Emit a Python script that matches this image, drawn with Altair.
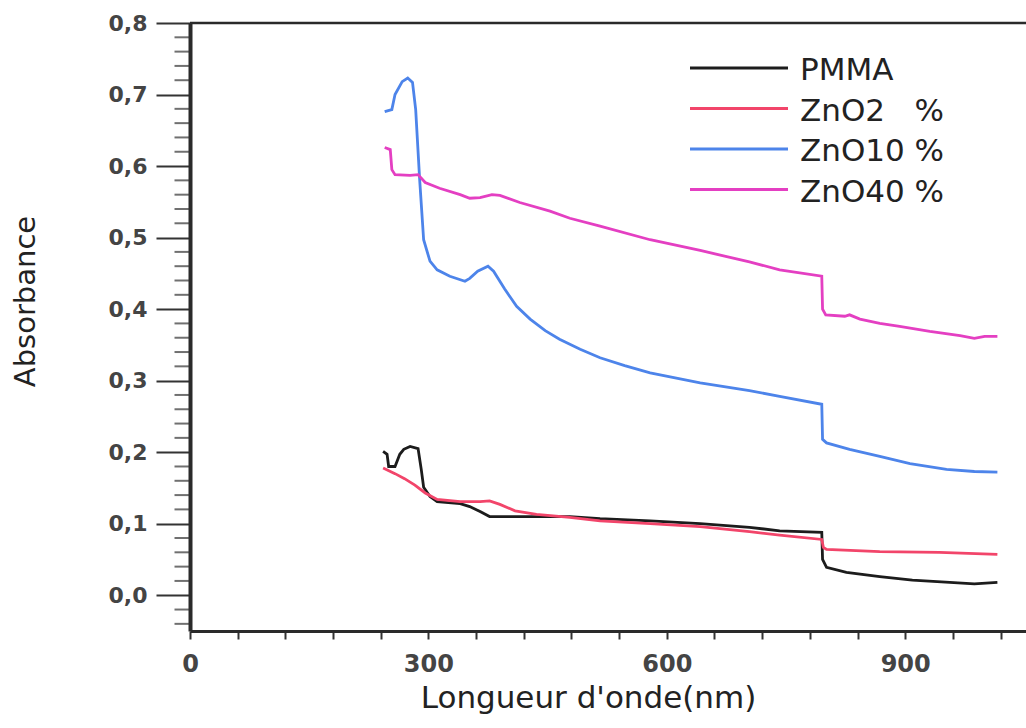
import altair as alt
import pandas as pd

# ---------------- data ----------------
series_names = ["PMMA", "ZnO2 %", "ZnO10 %", "ZnO40 %"]
legend_labels = ["PMMA", "ZnO2\u00a0\u00a0\u00a0%", "ZnO10 %", "ZnO40 %"]
colors = ["#1c1c1c", "#f2456a", "#4d84ea", "#e43fc2"]

pmma_x = [243, 248, 250, 258, 264, 269, 277, 287, 291, 294, 302, 311, 340, 352, 365, 377,
          415, 478, 516, 579, 642, 704, 742, 795, 796, 801, 826, 868, 909, 956, 987, 1016]
pmma_y = [0.201, 0.197, 0.180, 0.180, 0.197, 0.204, 0.208, 0.205, 0.176, 0.151, 0.138, 0.131,
          0.128, 0.124, 0.117, 0.110, 0.110, 0.110, 0.107, 0.104, 0.100, 0.095, 0.090, 0.088,
          0.050, 0.039, 0.032, 0.026, 0.021, 0.018, 0.016, 0.018]

zno2_x = [243, 258, 270, 283, 296, 311, 340, 365, 377, 390, 409, 436, 478, 516, 579, 642,
          704, 742, 795, 797, 801, 868, 943, 1016]
zno2_y = [0.178, 0.170, 0.163, 0.154, 0.143, 0.134, 0.131, 0.131, 0.132, 0.127, 0.118, 0.113,
          0.109, 0.104, 0.100, 0.096, 0.089, 0.084, 0.078, 0.067, 0.064, 0.061, 0.060, 0.057]

zno10_x = [245, 254, 258, 267, 274, 280, 284, 289, 294, 302, 311, 327, 346, 352, 362, 375,
           382, 396, 411, 428, 447, 465, 491, 516, 547, 579, 642, 704, 742, 795, 796, 801,
           830, 868, 906, 952, 987, 1016]
zno10_y = [0.676, 0.679, 0.700, 0.718, 0.723, 0.717, 0.679, 0.581, 0.497, 0.467, 0.455, 0.446,
           0.439, 0.443, 0.453, 0.460, 0.453, 0.428, 0.404, 0.386, 0.370, 0.358, 0.344, 0.332,
           0.321, 0.311, 0.297, 0.286, 0.278, 0.267, 0.218, 0.213, 0.204, 0.194, 0.184, 0.176,
           0.173, 0.172]

zno40_x = [245, 252, 254, 258, 277, 287, 296, 314, 340, 352, 365, 380, 390, 415, 453, 478,
           516, 579, 642, 704, 742, 795, 796, 800, 824, 830, 843, 868, 893, 931, 969, 987,
           1000, 1016]
zno40_y = [0.626, 0.623, 0.595, 0.588, 0.587, 0.588, 0.577, 0.569, 0.560, 0.555, 0.556, 0.560,
           0.559, 0.549, 0.537, 0.527, 0.516, 0.497, 0.482, 0.466, 0.455, 0.446, 0.400, 0.392,
           0.390, 0.392, 0.386, 0.380, 0.376, 0.369, 0.363, 0.359, 0.362, 0.362]

x_tick_values = [0, 60, 120, 180, 240, 300, 360, 420, 480, 540, 600, 660, 720, 780, 840, 900,
                 960, 1020]
y_major_ticks = [0.0, 0.1, 0.2, 0.3, 0.4, 0.5, 0.6, 0.7, 0.8]
y_minor_ticks = [-0.04, -0.02, 0.02, 0.04, 0.06, 0.08, 0.12, 0.14, 0.16, 0.18, 0.22, 0.24,
                 0.26, 0.28, 0.32, 0.34, 0.36, 0.38, 0.42, 0.44, 0.46, 0.48, 0.52, 0.54, 0.56,
                 0.58, 0.62, 0.64, 0.66, 0.68, 0.72, 0.74, 0.76, 0.78]

# ---------------- table ----------------
rows = []
for name, xs, ys in [("PMMA", pmma_x, pmma_y), ("ZnO2 %", zno2_x, zno2_y),
                     ("ZnO10 %", zno10_x, zno10_y), ("ZnO40 %", zno40_x, zno40_y)]:
    for i, (a, b) in enumerate(zip(xs, ys)):
        rows.append({"nm": a, "abs": b, "series": name, "idx": i})
df = pd.DataFrame(rows)

W, H = 836, 608
XDOM = [0, 1052]
YDOM = [-0.05, 0.8]

x_major = "datum.value % 300 === 0"

x_axis = alt.Axis(
    values=x_tick_values,
    labelExpr=f"{x_major} ? toString(datum.value) : ''",
    tickSize=8, tickWidth=2, tickColor="#333",
    domainColor="#2a2a2a", domainWidth=3,
    labelFont="DejaVu Sans", labelFontWeight="bold", labelFontSize=24, labelColor="#444",
    labelPadding=13, labelFlush=False, labelOverlap=False,
    grid=False,
    title="Longueur d'onde(nm)", titleFont="DejaVu Sans", titleFontSize=31,
    titleFontWeight="normal", titleColor="#222",
    titleX=398, titleY=76, titleAlign="center", titleBaseline="alphabetic",
)
y_axis = alt.Axis(
    values=y_major_ticks,
    labelExpr="replace(format(datum.value, '.1f'), '.', ',')",
    tickSize=34, tickWidth=2, tickColor="#333",
    domainColor="#2a2a2a", domainWidth=4,
    labelFont="DejaVu Sans", labelFontWeight="bold", labelFontSize=22, labelColor="#444",
    labelPadding=9, labelFlush=False, labelOverlap=False,
    grid=False,
    title="Absorbance", titleFont="DejaVu Sans", titleFontSize=29,
    titleFontWeight="normal", titleColor="#222",
    titleAngle=270, titleX=-156, titleY=278, titleAlign="center", titleBaseline="alphabetic",
)

yscale = alt.Scale(domain=YDOM, nice=False, zero=False)
xscale = alt.Scale(domain=XDOM, nice=False, zero=False)

lines = alt.Chart(df).mark_line(strokeWidth=2.8).encode(
    x=alt.X("nm:Q", scale=xscale, axis=x_axis),
    y=alt.Y("abs:Q", scale=yscale, axis=y_axis),
    color=alt.Color("series:N", scale=alt.Scale(domain=series_names, range=colors), legend=None),
    order=alt.Order("idx:Q"),
)

# minor ticks on the absorbance axis (shorter than the major ones)
minor = alt.Chart(pd.DataFrame({"abs": y_minor_ticks})).mark_tick(
    orient="horizontal", size=15, thickness=2, color="#333"
).encode(y=alt.Y("abs:Q", scale=yscale, axis=y_axis), x=alt.value(-8))

# top frame line of the plot box
top_frame = alt.Chart(pd.DataFrame({"k": [0]})).mark_rule(
    color="#2a2a2a", strokeWidth=2.5
).encode(y=alt.value(0), x=alt.value(0), x2=alt.value(W))

# ---------------- legend (manual, top right) ----------------
legend_layers = []
row_y0, row_dy = 45, 40.5
for i, (lab, col) in enumerate(zip(legend_labels, colors)):
    yy = row_y0 + i * row_dy
    d = pd.DataFrame({"label": [lab]})
    legend_layers.append(
        alt.Chart(d).mark_rule(color=col, strokeWidth=2.8).encode(
            x=alt.value(500), x2=alt.value(598), y=alt.value(yy)
        )
    )
    legend_layers.append(
        alt.Chart(d).mark_text(
            align="left", baseline="middle", font="DejaVu Sans", fontSize=31, color="#222"
        ).encode(x=alt.value(610), y=alt.value(yy + 3), text="label:N")
    )

chart = alt.layer(lines, minor, top_frame, *legend_layers).properties(
    width=W, height=H,
    padding={"left": 190, "top": 23, "right": 0, "bottom": 97},
    autosize=alt.AutoSizeParams(type="none"),
    background="white",
).configure_view(stroke=None)

chart.save("out.html", embed_options={"renderer": "svg", "actions": False})
